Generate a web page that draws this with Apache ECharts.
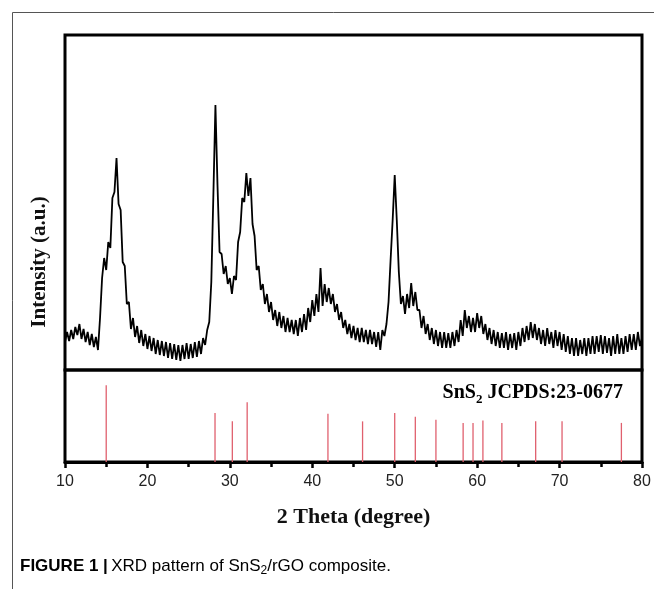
<!DOCTYPE html>
<html><head><meta charset="utf-8">
<script src="https://cdn.jsdelivr.net/npm/echarts@6/dist/echarts.min.js"></script>
<style>html,body{margin:0;padding:0;background:#fff}#c{width:654px;height:589px}</style>
</head><body><div id="c"></div>
<script>
// Sampling grid of the XRD scan (degrees 2-theta)
const thetaStart = 10;
const thetaStep = 0.25;
// Intensity, 4 samples per degree (d, d+.25, d+.5, d+.75)
const intensity = [
  28, 38, 29, 40,   // 10
  31, 43, 35, 46,   // 11
  31, 41, 28, 38,   // 12
  25, 36, 23, 33,   // 13
  20, 52, 92, 112,  // 14
  100, 128, 122, 172, // 15
  178, 212, 166, 160, // 16
  108, 104, 66, 68, // 17
  41, 52, 33, 44,   // 18
  27, 40, 24, 36,   // 19
  21, 34, 19, 32,   // 20
  16, 30, 15, 29,   // 21
  14, 28, 12, 27,   // 22
  11, 26, 10, 25,   // 23
  9, 25, 11, 27,    // 24
  11, 26, 12, 28,   // 25
  13, 29, 16, 32,   // 26
  25, 40, 48, 88,   // 27
  175, 265, 185, 118, // 28
  116, 96, 104, 86, // 29
  92, 76, 94, 90,   // 30
  128, 138, 172, 168, // 31
  197, 174, 192, 146, // 32
  134, 100, 104, 80, // 33
  86, 66, 76, 58,   // 34
  68, 50, 60, 44,   // 35
  58, 42, 54, 38,   // 36
  52, 38, 50, 36,   // 37
  50, 34, 52, 38,   // 38
  56, 40, 62, 48,   // 39
  70, 54, 76, 58,   // 40
  102, 64, 86, 68,  // 41
  82, 66, 76, 58,   // 42
  66, 50, 58, 42,   // 43
  50, 36, 46, 32,   // 44
  44, 30, 42, 28,   // 45
  42, 28, 40, 26,   // 46
  40, 26, 38, 23,   // 47
  38, 20, 40, 34,   // 48
  46, 68, 110, 150, // 49
  195, 150, 98, 66, // 50
  74, 56, 76, 62,   // 51
  87, 64, 78, 60,   // 52
  60, 42, 54, 36,   // 53
  46, 30, 42, 26,   // 54
  40, 24, 38, 22,   // 55
  38, 22, 37, 22,   // 56
  38, 24, 40, 28,   // 57
  50, 34, 60, 42,   // 58
  54, 38, 52, 38,   // 59
  57, 42, 54, 36,   // 60
  46, 30, 42, 26,   // 61
  40, 24, 38, 22,   // 62
  37, 22, 38, 20,   // 63
  36, 22, 37, 20,   // 64
  38, 24, 42, 28,   // 65
  44, 30, 48, 32,   // 66
  46, 30, 42, 26,   // 67
  40, 24, 42, 26,   // 68
  38, 22, 40, 24,   // 69
  38, 20, 36, 18,   // 70
  34, 16, 32, 14,   // 71
  32, 14, 30, 16,   // 72
  32, 14, 32, 16,   // 73
  34, 16, 34, 18,   // 74
  35, 16, 34, 17,   // 75
  32, 14, 34, 16,   // 76
  36, 16, 32, 16,   // 77
  34, 18, 36, 20,   // 78
  36, 20, 38, 24,   // 79
  32                // 80
];
// SnS2 JCPDS 23-0677 reference lines
const refPositions = [15.0, 28.2, 30.3, 32.1, 41.9, 46.1, 50.0, 52.5, 55.0, 58.3, 59.5, 60.7, 63.0, 67.1, 70.3, 77.5];
const refIntensity = [100, 64, 53, 78, 63, 53, 64, 59, 55, 51, 51, 54, 51, 53, 53, 51];
const xTickLabels = ['10', '20', '30', '40', '50', '60', '70', '80'];

const pattern = intensity.map((v, i) => [thetaStart + i * thetaStep, v]);
const refData = refPositions.map((p, i) => [p, refIntensity[i]]);

const chart = echarts.init(document.getElementById('c'), null, {renderer: 'canvas'});
const serif = '"Liberation Serif", "Times New Roman", serif';
const sans = '"Liberation Sans", Arial, sans-serif';

chart.setOption({
  animation: false,
  backgroundColor: '#fff',
  grid: [
    {left: 65, top: 35, width: 577, height: 335, show: true, borderColor: '#000', borderWidth: 3, backgroundColor: 'transparent'},
    {left: 65, top: 370, width: 577, height: 92, show: true, borderColor: '#000', borderWidth: 3, backgroundColor: 'transparent'}
  ],
  xAxis: [
    {gridIndex: 0, type: 'value', min: 10, max: 80, show: false},
    {gridIndex: 1, type: 'value', min: 10, max: 80, interval: 10,
     axisLine: {show: true, onZero: false, lineStyle: {color: '#000', width: 3}},
     axisTick: {show: true, inside: false, length: 6, lineStyle: {color: '#000', width: 2.5}},
     minorTick: {show: true, splitNumber: 2, length: 5, lineStyle: {color: '#000', width: 2.5}},
     splitLine: {show: false},
     axisLabel: {fontSize: 16, color: '#222', fontFamily: sans, margin: 12,
       formatter: (v) => xTickLabels[Math.round((v - 10) / 10)] ?? ''},
     name: '2 Theta (degree)', nameLocation: 'middle', nameGap: 44,
     nameTextStyle: {fontFamily: serif, fontWeight: 'bold', fontSize: 22, color: '#111'}}
  ],
  yAxis: [
    {gridIndex: 0, type: 'value', min: 0, max: 335, show: false},
    {gridIndex: 1, type: 'value', min: 0, max: 120, show: false}
  ],
  series: [
    {type: 'line', xAxisIndex: 0, yAxisIndex: 0, data: pattern, symbol: 'none',
     lineStyle: {color: '#000', width: 1.8}, silent: true},
    {type: 'bar', xAxisIndex: 1, yAxisIndex: 1, data: refData, barWidth: 1.3,
     itemStyle: {color: '#e0606e'}, silent: true}
  ],
  graphic: [
    {type: 'polyline', shape: {points: [[12.5, 589], [12.5, 12.5], [654, 12.5]]},
     style: {stroke: '#555', lineWidth: 1, fill: null}, silent: true},
    {type: 'text', x: 40, y: 262, rotation: Math.PI / 2,
     style: {text: 'Intensity (a.u.)', align: 'center', verticalAlign: 'middle',
       font: 'bold 21px ' + serif, fill: '#111'}},
    {type: 'text', x: 623, y: 393,
     style: {text: '{a|SnS}{s|2}{a| JCPDS:23-0677}', align: 'right', verticalAlign: 'middle',
       rich: {
         a: {fontFamily: serif, fontWeight: 'bold', fontSize: 20, color: '#111', lineHeight: 26},
         s: {fontFamily: serif, fontWeight: 'bold', fontSize: 13, color: '#111', lineHeight: 14, verticalAlign: 'bottom'}
       }}},
    {type: 'text', x: 20, y: 566,
     style: {text: '{b|FIGURE 1 |} {r|XRD pattern of SnS}{s|2}{r|/rGO composite.}', align: 'left', verticalAlign: 'middle',
       rich: {
         b: {fontFamily: sans, fontWeight: 'bold', fontSize: 17, color: '#222', lineHeight: 22},
         r: {fontFamily: sans, fontSize: 17, color: '#333', lineHeight: 22},
         s: {fontFamily: sans, fontSize: 12, color: '#333', lineHeight: 13, verticalAlign: 'bottom'}
       }}}
  ]
});
</script></body></html>
